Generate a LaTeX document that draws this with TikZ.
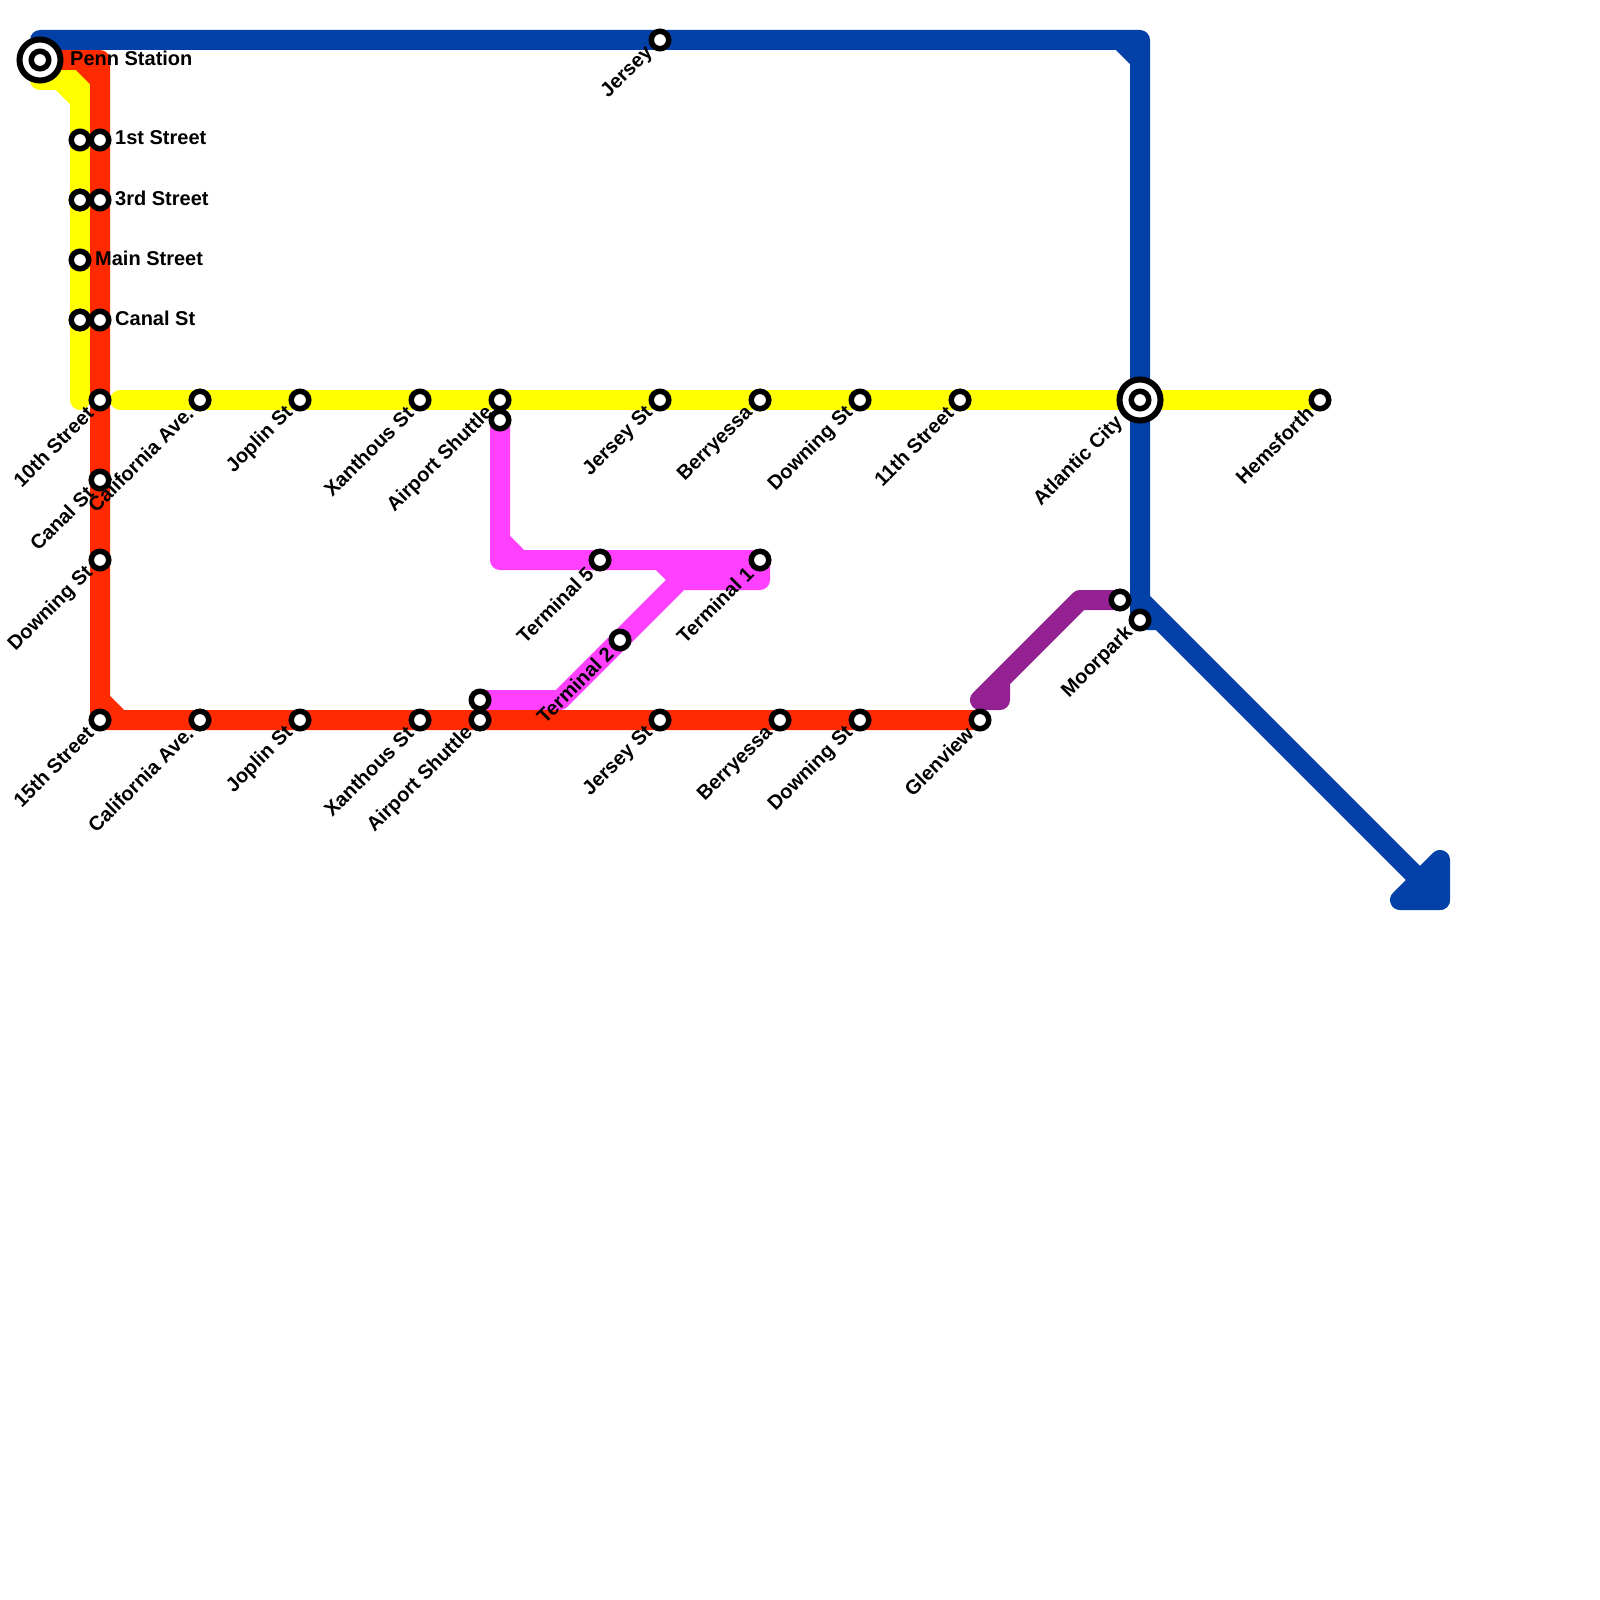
\documentclass[tikz,border=0pt]{standalone}
\usepackage{fontspec}
\setmainfont{Liberation Sans}
\usetikzlibrary{backgrounds}
\definecolor{lineyellow}{HTML}{FFFF00}
\definecolor{linered}{HTML}{FF2A00}
\definecolor{linemagenta}{HTML}{FF40FF}
\definecolor{lineblue}{HTML}{0341A8}
\definecolor{linepurple}{HTML}{942192}
\begin{document}
\begin{tikzpicture}[
    x=1pt,y=-1pt,
    stop/.style={circle,draw=black,fill=white,line width=5.5pt,minimum size=17.5pt,inner sep=0pt},
    hub/.style={circle,draw=black,fill=white,line width=6pt,minimum size=41pt,inner sep=0pt},
    tag/.style={font=\fontsize{20}{22}\selectfont\bfseries,inner sep=0pt,anchor=east,rotate=45},
    sidetag/.style={font=\fontsize{20}{22}\selectfont\bfseries,inner sep=0pt,anchor=west},
    metro/.style={line width=20pt,line cap=round,line join=round}
]
\path[use as bounding box] (0,0) rectangle (1600,1600);
\node[hub] (pennring) at (40,60) {};
\node[stop] (penn) at (40,60) {};
\node[hub] (atlanticring) at (1140,400) {};
\node[stop] (atlantic) at (1140,400) {};
\node[stop] (yfirst) at (80,140) {};
\node[stop] (ythird) at (80,200) {};
\node[stop] (main) at (80,260) {};
\node[stop] (ycanal) at (80,320) {};
\node[stop] (first) at (100,140) {};
\node[stop] (third) at (100,200) {};
\node[stop] (canal) at (100,320) {};
\node[stop] (tenth) at (100,400) {};
\node[stop] (ycalifornia) at (200,400) {};
\node[stop] (yjoplin) at (300,400) {};
\node[stop] (yxanthous) at (420,400) {};
\node[stop] (yairport) at (500,400) {};
\node[stop] (yjersey) at (660,400) {};
\node[stop] (yberryessa) at (760,400) {};
\node[stop] (ydowning) at (860,400) {};
\node[stop] (eleventh) at (960,400) {};
\node[stop] (hemsforth) at (1320,400) {};
\node[stop] (rcanal) at (100,480) {};
\node[stop] (rdowning) at (100,560) {};
\node[stop] (fifteenth) at (100,720) {};
\node[stop] (rcalifornia) at (200,720) {};
\node[stop] (rjoplin) at (300,720) {};
\node[stop] (rxanthous) at (420,720) {};
\node[stop] (rairport) at (480,720) {};
\node[stop] (rjersey) at (660,720) {};
\node[stop] (rberryessa) at (780,720) {};
\node[stop] (rdowningb) at (860,720) {};
\node[stop] (glenview) at (980,720) {};
\node[stop] (mairport) at (500,420) {};
\node[stop] (mairportb) at (480,700) {};
\node[stop] (terminalfive) at (600,560) {};
\node[stop] (terminalone) at (760,560) {};
\node[stop] (terminaltwo) at (620,640) {};
\node[stop] (bjersey) at (660,40) {};
\node[stop] (moorpark) at (1140,620) {};
\node[stop] (pmoorpark) at (1120,600) {};
\node[sidetag] (penntag) at (70,58) {Penn Station};
\node[sidetag] (firsttag) at (115,138) {1st Street};
\node[sidetag] (thirdtag) at (115,198) {3rd Street};
\node[sidetag] (maintag) at (95,258) {Main Street};
\node[sidetag] (canaltag) at (115,318) {Canal St};
\node[tag] (tenthtag) at (90,410) {10th Street};
\node[tag] (ycaliforniatag) at (190,410) {California Ave.};
\node[tag] (yjoplintag) at (290,410) {Joplin St};
\node[tag] (yxanthoustag) at (410,410) {Xanthous St};
\node[tag] (yairporttag) at (490,410) {Airport Shuttle};
\node[tag] (yjerseytag) at (650,410) {Jersey St};
\node[tag] (yberryessatag) at (750,410) {Berryessa};
\node[tag] (ydowningtag) at (850,410) {Downing St};
\node[tag] (eleventhtag) at (950,410) {11th Street};
\node[tag] (atlantictag) at (1120,420) {Atlantic City};
\node[tag] (hemsforthtag) at (1310,410) {Hemsforth};
\node[tag] (rcanaltag) at (90,490) {Canal St};
\node[tag] (rdowningtag) at (90,570) {Downing St};
\node[tag] (fifteenthtag) at (90,730) {15th Street};
\node[tag] (rcaliforniatag) at (190,730) {California Ave.};
\node[tag] (rjoplintag) at (290,730) {Joplin St};
\node[tag] (rxanthoustag) at (410,730) {Xanthous St};
\node[tag] (rairporttag) at (470,730) {Airport Shuttle};
\node[tag] (rjerseytag) at (650,730) {Jersey St};
\node[tag] (rberryessatag) at (770,730) {Berryessa};
\node[tag] (rdowningbtag) at (850,730) {Downing St};
\node[tag] (glenviewtag) at (970,730) {Glenview};
\node[tag] (bjerseytag) at (650,50) {Jersey};
\node[tag] (terminalfivetag) at (590,570) {Terminal 5};
\node[tag] (terminalonetag) at (750,570) {Terminal 1};
\node[tag] (terminaltwotag) at (610,650) {Terminal 2};
\node[tag] (moorparktag) at (1130,630) {Moorpark};
\coordinate (ystart) at (40,80);
\coordinate (ybend) at (80,80);
\coordinate (ychordin) at (60,80);
\coordinate (ychordout) at (80,100);
\coordinate (yfoot) at (80,400);
\coordinate (yrow) at (120,400);
\coordinate (rbend) at (100,60);
\coordinate (rchordin) at (80,60);
\coordinate (rchordout) at (100,80);
\coordinate (rcorner) at (100,720);
\coordinate (rlowin) at (100,700);
\coordinate (rlowout) at (120,720);
\coordinate (mcorner) at (500,560);
\coordinate (mchordin) at (500,540);
\coordinate (mchordout) at (520,560);
\coordinate (mdrop) at (760,580);
\coordinate (mfork) at (680,580);
\coordinate (mforkin) at (660,560);
\coordinate (mfoot) at (560,700);
\coordinate (bstart) at (40,40);
\coordinate (bcorner) at (1140,40);
\coordinate (bchordin) at (1120,40);
\coordinate (bchordout) at (1140,60);
\coordinate (bdiag) at (1140,600);
\coordinate (bstub) at (1160,620);
\coordinate (bhead) at (1440,900);
\coordinate (bheadleft) at (1400,900);
\coordinate (bheadtop) at (1440,860);
\coordinate (pbend) at (1080,600);
\coordinate (pfoot) at (980,700);
\coordinate (pfootright) at (1000,700);
\coordinate (pend) at (1000,680);
\begin{scope}[on background layer]
\draw[metro,lineyellow] (ystart)--(ybend)--(yfoot) (ychordin)--(ychordout);
\draw[metro,lineyellow] (yrow)--(hemsforth.center);
\draw[metro,linemagenta] (mairport.center)--(mcorner)--(terminalone.center)--(mdrop)--(mfork)--(mfoot)--(mairportb.center);
\draw[metro,linemagenta] (mchordin)--(mchordout) (mforkin)--(mfork);
\draw[metro,linered] (penn.center)--(rbend)--(rcorner)--(glenview.center) (rchordin)--(rchordout) (rlowin)--(rlowout);
\draw[metro,lineblue] (bstart)--(bcorner)--(moorpark.center)--(bstub) (bchordin)--(bchordout) (bdiag)--(bhead);
\draw[metro,lineblue] (bheadleft)--(bhead)--(bheadtop)--cycle;
\draw[metro,linepurple] (pmoorpark.center)--(pbend)--(pfoot)--(pfootright)--(pend);
\end{scope}
\end{tikzpicture}
\end{document}
